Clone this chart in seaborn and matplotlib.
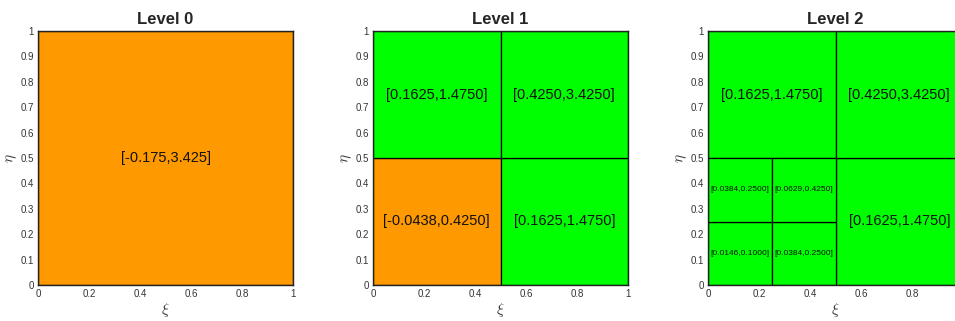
import matplotlib
matplotlib.use('Agg')
import matplotlib.pyplot as plt
import seaborn as sns
from matplotlib.ticker import FuncFormatter

sns.set_theme(style='white')
plt.rcParams['font.family'] = ['Liberation Sans', 'DejaVu Sans']
plt.rcParams['mathtext.fontset'] = 'cm'

titles = ['Level 0', 'Level 1', 'Level 2']

# 每个层级的单元：左下角x、左下角y、边长、区间下界、区间上界
cell_x = [[0.0],
          [0.0, 0.5, 0.0, 0.5],
          [0.5, 0.0, 0.5, 0.0, 0.25, 0.0, 0.25]]
cell_y = [[0.0],
          [0.0, 0.0, 0.5, 0.5],
          [0.0, 0.5, 0.5, 0.0, 0.0, 0.25, 0.25]]
cell_s = [[1.0],
          [0.5, 0.5, 0.5, 0.5],
          [0.5, 0.5, 0.5, 0.25, 0.25, 0.25, 0.25]]
cell_lo = [[-0.175],
           [-0.0438, 0.1625, 0.1625, 0.4250],
           [0.1625, 0.1625, 0.4250, 0.0146, 0.0384, 0.0384, 0.0629]]
cell_hi = [[3.425],
           [0.4250, 1.4750, 1.4750, 3.4250],
           [1.4750, 1.4750, 3.4250, 0.1000, 0.2500, 0.2500, 0.4250]]
labels = [['[-0.175,3.425]'],
          None, None]

orange = '#FF9900'
green = '#00FF00'

fig = plt.figure(figsize=(9.55, 3.21), dpi=100)
W, H = 955, 321
lefts = [38, 373, 708]

for k in range(3):
    ax = fig.add_axes([lefts[k] / W, (H - 285) / H, 255 / W, 254 / H])
    for x0, y0, s, lo, hi in zip(cell_x[k], cell_y[k], cell_s[k], cell_lo[k], cell_hi[k]):
        col = orange if lo < 0 else green
        ax.bar(x0, s, width=s, bottom=y0, align='edge', color=col,
               edgecolor='black', linewidth=0.9)
        if labels[k] is not None:
            txt = labels[k][0]
        else:
            txt = '[%.4f,%.4f]' % (lo, hi)
        fs = 10.5 if s >= 0.5 else 6
        ax.text(x0 + s / 2, y0 + s / 2, txt, ha='center', va='center',
                fontsize=fs, color='#111111')
    ax.set_xlim(0, 1)
    ax.set_ylim(0, 1)
    xt = [0, 0.2, 0.4, 0.6, 0.8, 1] if k < 2 else [0, 0.2, 0.4, 0.6, 0.8]
    ax.set_xticks(xt)
    ax.set_yticks([i / 10 for i in range(11)])
    fmt = FuncFormatter(lambda v, p: '%g' % round(v, 2))
    ax.xaxis.set_major_formatter(fmt)
    ax.yaxis.set_major_formatter(fmt)
    ax.tick_params(labelsize=7, colors='#333333', length=0, pad=3)
    for sp in ax.spines.values():
        sp.set_color('#222222')
        sp.set_linewidth(1.0)
    ax.set_title(titles[k], fontsize=12, fontweight='bold', pad=5)
    ax.set_xlabel(r'$\xi$', fontsize=11, labelpad=1, color='#333333')
    ax.set_ylabel(r'$\eta$', fontsize=11, labelpad=1, color='#333333')

fig.savefig('out.png', dpi=100)
